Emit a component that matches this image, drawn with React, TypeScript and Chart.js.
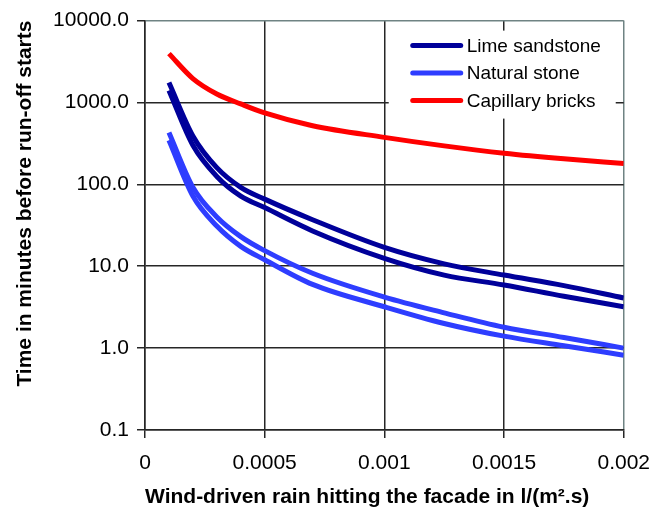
import React, { useEffect, useRef } from 'react';
import { Chart, registerables } from 'chart.js';

Chart.register(...registerables);

// ---- data ----
const xValues = [0.0001, 0.0002, 0.0003, 0.0004, 0.0005, 0.0007, 0.001, 0.00125, 0.0015, 0.00175, 0.002];
const limeUpper = [1750, 390, 160, 92, 66, 37, 17, 10.7, 7.8, 5.8, 4.1];
const limeLower = [1400, 300, 125, 72, 52, 27, 12.5, 7.8, 5.9, 4.3, 3.2];
const naturalUpper = [430, 92, 40, 23, 15.5, 8.2, 4.2, 2.7, 1.8, 1.35, 1.0];
const naturalLower = [345, 72, 31, 17.5, 12, 6.0, 3.2, 2.0, 1.4, 1.07, 0.82];
const capillaryBricks = [3950, 1960, 1270, 960, 745, 520, 375, 295, 240, 205, 180];

const seriesNames = ['Lime sandstone', 'Natural stone', 'Capillary bricks'];
const seriesColors = ['#00009a', '#2e3dff', '#ff0000'];

const xTickValues = [0, 0.0005, 0.001, 0.0015, 0.002];
const xTickLabels = ['0', '0.0005', '0.001', '0.0015', '0.002'];
const yTickValues = [0.1, 1, 10, 100, 1000, 10000];
const yTickLabels = ['0.1', '1.0', '10.0', '100.0', '1000.0', '10000.0'];

const xTitle = 'Wind-driven rain hitting the facade in l/(m².s)';
const yTitle = 'Time in minutes before run-off starts';

const FONT = '"Liberation Sans", Arial, sans-serif';
const GRID = '#262626';
const FRAME = '#6f8383';

const toPoints = (ys: number[]) => xValues.map((x, i) => ({ x, y: ys[i] }));

const legendPlugin = {
  id: 'boxLegend',
  afterDraw(chart: any) {
    const { ctx, chartArea } = chart;
    const x0 = chartArea.right - 235;
    const y0 = chartArea.top + 10;
    ctx.save();
    ctx.fillStyle = '#ffffff';
    ctx.fillRect(x0, y0, 227, 88);
    ctx.font = `19px ${FONT}`;
    ctx.textBaseline = 'middle';
    ctx.textAlign = 'left';
    seriesNames.forEach((name, i) => {
      const y = y0 + 15 + i * 27.5;
      ctx.strokeStyle = seriesColors[i];
      ctx.lineWidth = 5;
      ctx.lineCap = 'round';
      ctx.beginPath();
      ctx.moveTo(x0 + 24, y);
      ctx.lineTo(x0 + 72, y);
      ctx.stroke();
      ctx.fillStyle = '#000';
      ctx.fillText(name, x0 + 78, y + 1);
    });
    ctx.restore();
  },
};

export default function App() {
  const ref = useRef<HTMLCanvasElement | null>(null);

  useEffect(() => {
    if (!ref.current) return;
    const mk = (label: string, data: number[], color: string) => ({
      label,
      data: toPoints(data),
      borderColor: color,
      backgroundColor: color,
      borderWidth: 5,
      pointRadius: 0,
      cubicInterpolationMode: 'monotone' as const,
      fill: false,
    });
    const chart = new Chart(ref.current, {
      type: 'line',
      data: {
        datasets: [
          mk(seriesNames[0], limeUpper, seriesColors[0]),
          mk(seriesNames[0], limeLower, seriesColors[0]),
          mk(seriesNames[1], naturalUpper, seriesColors[1]),
          mk(seriesNames[1], naturalLower, seriesColors[1]),
          mk(seriesNames[2], capillaryBricks, seriesColors[2]),
        ],
      },
      options: {
        animation: false,
        responsive: false,
        layout: { padding: { top: 20, right: 38, left: 0, bottom: 0 } },
        plugins: { legend: { display: false }, tooltip: { enabled: false } },
        scales: {
          x: {
            type: 'linear',
            min: 0,
            max: 0.002,
            afterBuildTicks: (s: any) => {
              s.ticks = xTickValues.map((v) => ({ value: v }));
            },
            afterFit: (s: any) => {
              s.height = 85;
            },
            ticks: {
              color: '#000',
              font: { family: FONT, size: 21 },
              padding: 13,
              maxRotation: 0,
              autoSkip: false,
              callback: (_v: any, i: number) => xTickLabels[i],
            },
            grid: {
              color: (c: any) => (c.tick && c.tick.value === 0.002 ? FRAME : GRID),
              lineWidth: 1.5,
              tickColor: GRID,
              tickLength: 8,
            },
            border: { display: true, color: GRID, width: 1.5 },
            title: {
              display: true,
              text: xTitle,
              align: 'start',
              color: '#000',
              font: { family: FONT, size: 21, weight: 'bold' },
              padding: { top: 0, bottom: 5 },
            },
          },
          y: {
            type: 'logarithmic',
            min: 0.1,
            max: 10000,
            afterBuildTicks: (s: any) => {
              s.ticks = yTickValues.map((v) => ({ value: v }));
            },
            afterFit: (s: any) => {
              s.width = 145;
            },
            ticks: {
              color: '#000',
              font: { family: FONT, size: 21 },
              padding: 8,
              autoSkip: false,
              callback: (_v: any, i: number) => yTickLabels[i],
            },
            grid: {
              color: (c: any) => (c.tick && c.tick.value === 10000 ? FRAME : GRID),
              lineWidth: 1.5,
              tickColor: GRID,
              tickLength: 8,
            },
            border: { display: true, color: GRID, width: 1.5 },
            title: {
              display: true,
              text: yTitle,
              align: 'end',
              color: '#000',
              font: { family: FONT, size: 21, weight: 'bold' },
              padding: { top: 13, bottom: 0 },
            },
          },
        },
      },
      plugins: [legendPlugin],
    } as any);
    return () => chart.destroy();
  }, []);

  return (
    <div style={{ position: 'fixed', left: 0, top: 0, width: 663, height: 515, background: '#fff' }}>
      <canvas ref={ref} width={663} height={515} style={{ display: 'block' }} />
    </div>
  );
}
